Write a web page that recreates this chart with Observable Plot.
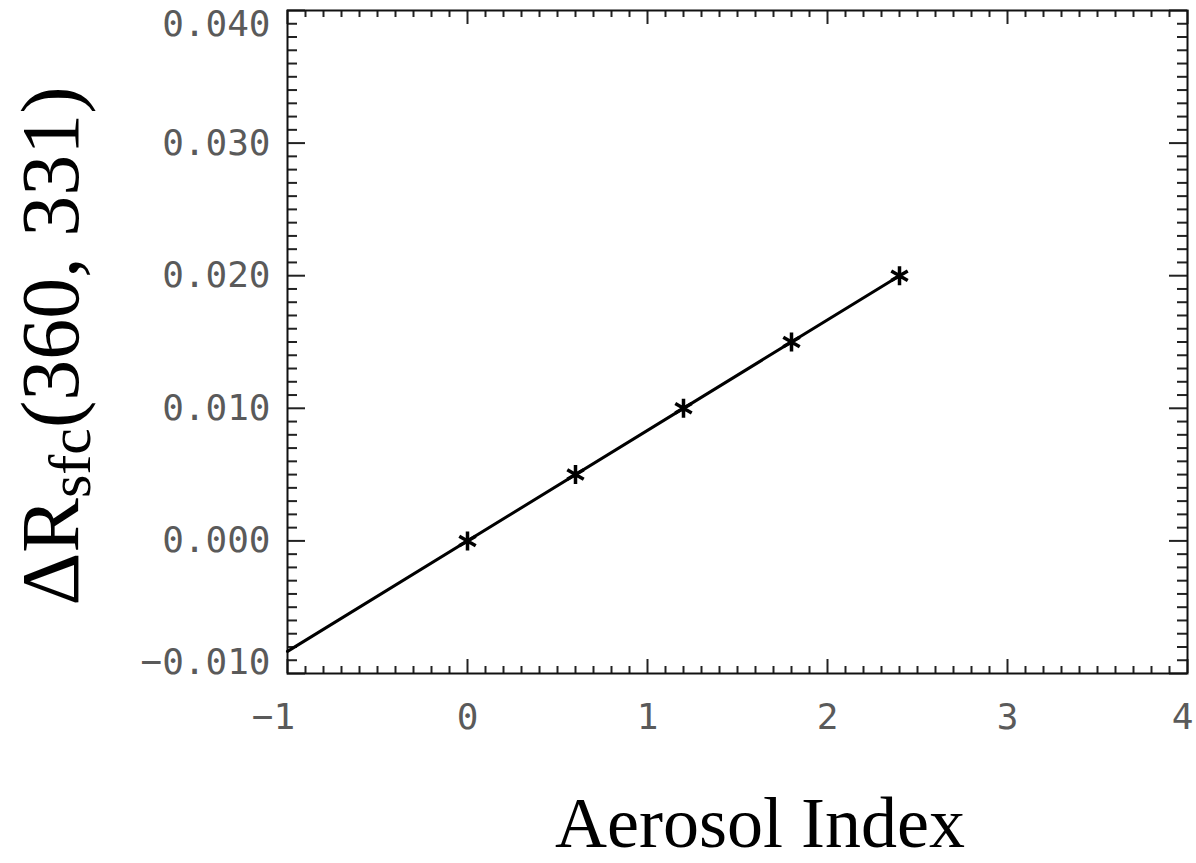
<!DOCTYPE html>
<html><head><meta charset="utf-8">
<script src="https://cdn.jsdelivr.net/npm/d3@7"></script>
<script src="https://cdn.jsdelivr.net/npm/@observablehq/plot@0.6"></script>
<style>html,body{margin:0;padding:0;background:#fff;overflow:hidden}</style>
</head><body><div id="chart"></div>
<script>
// Data
const aerosolIndex = [0, 0.6, 1.2, 1.8, 2.4];
const deltaRsfc = [0.000, 0.005, 0.010, 0.015, 0.020];
// fitted line drawn through the points, from the left frame edge
const fitX = [-1, 2.4];
const fitY = [-0.00833, 0.020];
// Axis ticks
const xMajorTicks = [-1, 0, 1, 2, 3, 4];
const yMajorTicks = [-0.010, 0.000, 0.010, 0.020, 0.030, 0.040];
const xMinorTicks = d3.range(-10, 41).filter(i => i % 10 !== 0).map(i => i / 10);
const yMinorTicks = d3.range(-10, 41).filter(i => i % 10 !== 0).map(i => i / 1000);
const xTitle = "Aerosol Index";
const yTitleMain = "\u0394R";
const yTitleSub = "sfc";
const yTitleRest = "(360, 331)";

const W = 1196, H = 863;
const mL = 287, mR = 9, mT = 10, mB = 190;
const plotW = W - mL - mR, plotH = H - mT - mB;

const points = aerosolIndex.map((x, i) => ({x, y: deltaRsfc[i]}));
const fit = fitX.map((x, i) => ({x, y: fitY[i]}));
const tickColor = "#222";
const labelFill = "#5a5a5a";
const fmtX = d3.format("d"), fmtY = d3.format(".3f");

const xInner = xMajorTicks.slice(1, -1);
const yInner = yMajorTicks.slice(1, -1);

const svg = Plot.plot({
  width: W, height: H,
  marginLeft: mL, marginRight: mR, marginTop: mT, marginBottom: mB,
  style: {background: "#fff", fontFamily: "DejaVu Sans Mono, monospace"},
  x: {domain: [-1, 4]},
  y: {domain: [-0.010, 0.040]},
  marks: [
    // ticks (inward) bottom / top
    Plot.ruleX(xMinorTicks, {x: d => d, insetTop: plotH - 7, stroke: tickColor, strokeWidth: 2}),
    Plot.ruleX(xMinorTicks, {x: d => d, insetBottom: plotH - 7, stroke: tickColor, strokeWidth: 2}),
    Plot.ruleX(xMajorTicks, {x: d => d, insetTop: plotH - 14, stroke: tickColor, strokeWidth: 2}),
    Plot.ruleX(xMajorTicks, {x: d => d, insetBottom: plotH - 14, stroke: tickColor, strokeWidth: 2}),
    // ticks left / right
    Plot.ruleY(yMinorTicks, {y: d => d, insetRight: plotW - 10, stroke: tickColor, strokeWidth: 2}),
    Plot.ruleY(yMinorTicks, {y: d => d, insetLeft: plotW - 10, stroke: tickColor, strokeWidth: 2}),
    Plot.ruleY(yMajorTicks, {y: d => d, insetRight: plotW - 18, stroke: tickColor, strokeWidth: 2}),
    Plot.ruleY(yMajorTicks, {y: d => d, insetLeft: plotW - 18, stroke: tickColor, strokeWidth: 2}),
    Plot.frame({stroke: "#111", strokeWidth: 2}),
    // tick labels
    Plot.axisX({ticks: xInner, tickSize: 0, tickPadding: 30, tickFormat: fmtX, label: null, fontSize: 36, fill: labelFill}),
    Plot.axisX({ticks: [xMajorTicks[0]], tickSize: 0, tickPadding: 30, tickFormat: fmtX, label: null, fontSize: 36, fill: labelFill, dx: -14}),
    Plot.axisX({ticks: [xMajorTicks[xMajorTicks.length - 1]], tickSize: 0, tickPadding: 30, tickFormat: fmtX, label: null, fontSize: 36, fill: labelFill, dx: -5}),
    Plot.axisY({ticks: yInner, tickSize: 0, tickPadding: 17, tickFormat: fmtY, label: null, fontSize: 36, fill: labelFill}),
    Plot.axisY({ticks: [yMajorTicks[0]], tickSize: 0, tickPadding: 17, tickFormat: fmtY, label: null, fontSize: 36, fill: labelFill, dy: -11}),
    Plot.axisY({ticks: [yMajorTicks[yMajorTicks.length - 1]], tickSize: 0, tickPadding: 17, tickFormat: fmtY, label: null, fontSize: 36, fill: labelFill, dy: 14}),
    // data
    Plot.line(fit, {x: "x", y: "y", stroke: "#000", strokeWidth: 3}),
    Plot.dot(points, {x: "x", y: "y", symbol: "asterisk", r: 9, stroke: "#000", strokeWidth: 3.5})
  ]
});

const s = d3.select(svg);
s.append("text")
  .attr("x", 760)
  .attr("y", 847)
  .attr("text-anchor", "middle")
  .style("font-family", "'Liberation Serif', 'Times New Roman', serif")
  .style("font-size", "72px")
  .attr("fill", "#000")
  .text(xTitle);

const yt = s.append("text")
  .attr("transform", "translate(78,346) rotate(-90)")
  .attr("text-anchor", "middle")
  .style("font-family", "'Liberation Serif', 'Times New Roman', serif")
  .style("font-size", "82px")
  .attr("fill", "#000");
yt.append("tspan").text(yTitleMain);
yt.append("tspan").attr("dy", 12).style("font-size", "60px").text(yTitleSub);
yt.append("tspan").attr("dy", -12).text(yTitleRest);

document.getElementById("chart").appendChild(svg);
</script>
</body></html>
